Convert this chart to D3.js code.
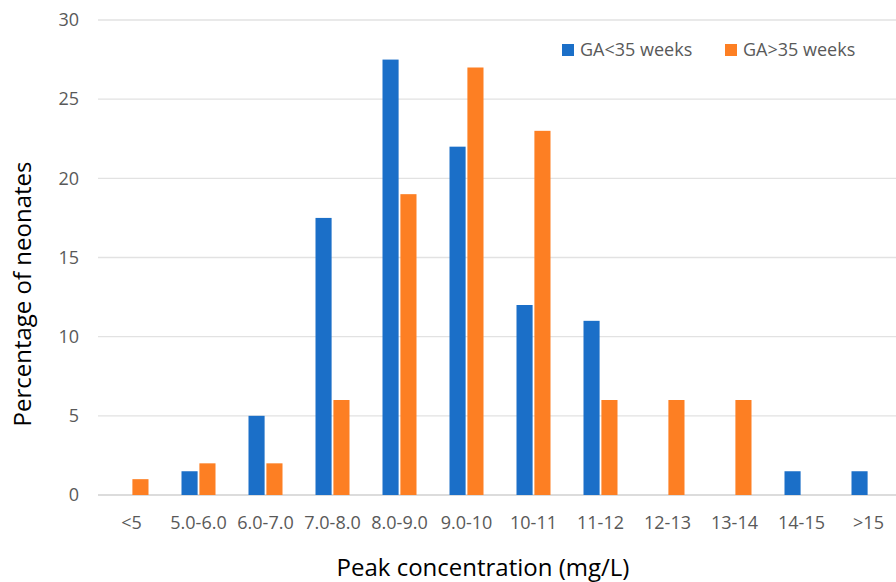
<!DOCTYPE html>
<html lang="en">
<head>
<meta charset="UTF-8">
<title>Peak concentration</title>
<script src="https://d3js.org/d3.v7.min.js"></script>
<style>
  body { margin: 0; background: #fff; }
  svg text { font-family: "Open Sans", sans-serif; }
</style>
</head>
<body>
<svg id="main" width="896" height="582"></svg>
<script>
const categories = ['<5', '5.0-6.0', '6.0-7.0', '7.0-8.0', '8.0-9.0', '9.0-10', '10-11', '11-12', '12-13', '13-14', '14-15', '>15'];
const seriesNames = ['GA<35 weeks', 'GA>35 weeks'];
const gaUnder35 = [0, 1.5, 5, 17.5, 27.5, 22, 12, 11, 0, 0, 1.5, 1.5];
const gaOver35 = [1, 2, 2, 6, 19, 27, 23, 6, 6, 6, 0, 0];
const yTicks = [0, 5, 10, 15, 20, 25, 30];
const colors = ['#1b6fc8', '#fd7f23'];

const svg = d3.select('#main');
const plotLeft = 98, plotRight = 902, plotTop = 20, plotBottom = 495;

const x = d3.scaleBand().domain(categories).range([plotLeft, plotRight]);
const xs = d3.scaleBand().domain(seriesNames).range([x.bandwidth() / 2 - 17, x.bandwidth() / 2 + 17]).paddingInner(0.1);
const y = d3.scaleLinear().domain([0, 30]).range([plotBottom, plotTop]);

// gridlines
svg.append('g')
  .selectAll('line')
  .data(yTicks)
  .join('line')
  .attr('x1', plotLeft).attr('x2', 896)
  .attr('y1', d => y(d)).attr('y2', d => y(d))
  .attr('stroke', d => d === 0 ? '#d0d0d0' : '#e2e2e2')
  .attr('stroke-width', 1.3);

// y tick labels
svg.append('g')
  .selectAll('text')
  .data(yTicks)
  .join('text')
  .attr('x', 79)
  .attr('y', d => y(d))
  .attr('dy', '0.35em')
  .attr('text-anchor', 'end')
  .attr('fill', '#595959')
  .attr('font-size', 18)
  .text(d => d);

// bars
const series = [gaUnder35, gaOver35];
series.forEach((vals, si) => {
  svg.append('g')
    .attr('fill', colors[si])
    .selectAll('rect')
    .data(vals.map((v, i) => ({ cat: categories[i], v })).filter(d => d.v > 0))
    .join('rect')
    .attr('x', d => x(d.cat) + xs(seriesNames[si]))
    .attr('width', xs.bandwidth())
    .attr('y', d => y(d.v))
    .attr('height', d => y(0) - y(d.v));
});

// x labels
svg.append('g')
  .selectAll('text')
  .data(categories)
  .join('text')
  .attr('x', d => x(d) + x.bandwidth() / 2)
  .attr('y', 529)
  .attr('text-anchor', 'middle')
  .attr('fill', '#595959')
  .attr('font-size', 18)
  .text(d => d);

// axis titles
svg.append('text')
  .attr('x', 483).attr('y', 576)
  .attr('text-anchor', 'middle')
  .attr('font-size', 24)
  .attr('fill', '#000')
  .text('Peak concentration (mg/L)');

svg.append('text')
  .attr('transform', 'translate(31,294) rotate(-90)')
  .attr('text-anchor', 'middle')
  .attr('font-size', 24)
  .attr('fill', '#000')
  .text('Percentage of neonates');

// legend
const legendX = [562, 725];
const lg = svg.append('g');
seriesNames.forEach((name, i) => {
  lg.append('rect')
    .attr('x', legendX[i]).attr('y', 44)
    .attr('width', 12).attr('height', 12)
    .attr('fill', colors[i]);
  lg.append('text')
    .attr('x', legendX[i] + 18).attr('y', 50)
    .attr('dy', '0.35em')
    .attr('font-size', 18)
    .attr('fill', '#595959')
    .text(name);
});
</script>
</body>
</html>
